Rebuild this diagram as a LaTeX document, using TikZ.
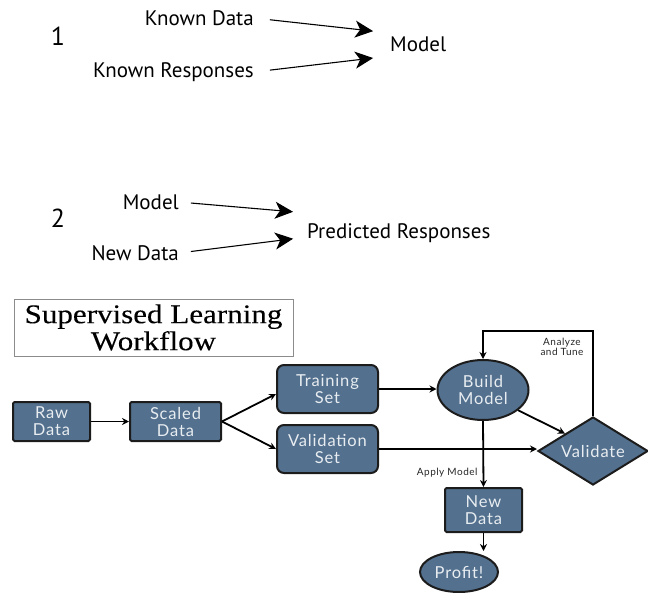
\documentclass[tikz,border=0pt]{standalone}
\usepackage{fontspec}
\setmainfont{Liberation Serif}
\setsansfont{PT Sans}
\newfontfamily\flowfont[LetterSpace=5]{Lato}
\newfontfamily\titlefont[FakeStretch=1.15,FakeBold=0.2]{Liberation Serif}
\usetikzlibrary{
  shapes.geometric, % ellipse, diamond
  arrows.meta,
  positioning,
}
\definecolor{boxblue}{HTML}{53708E}
\definecolor{boxedge}{HTML}{1C1C1C}
\definecolor{boxtext}{HTML}{E8EDF1}
\tikzset{
  semithick,
  big arrow/.style={
    -{Stealth[length=18pt,width=17pt,inset=5pt]},
    line width=1.1pt
  },
  flow arrow/.style={
    -{Stealth[length=7pt,width=7pt]},
    line width=1.8pt
  },
  plain/.style={
    font=\sffamily\fontsize{21}{23}\selectfont,
    inner sep=0pt
  },
  step num/.style={
    font=\sffamily\fontsize{26}{28}\selectfont,
    inner sep=0pt
  },
  wf/.style={
    draw=boxedge,
    line width=2pt,
    fill=boxblue,
    text=boxtext,
    font=\flowfont\fontsize{16.5}{17}\selectfont,
    align=center,
    inner sep=0pt
  },
  wf box/.style={
    wf,
    rectangle,
    rounded corners=1.5pt
  },
  wf round/.style={
    wf,
    rectangle,
    rounded corners=7pt,
    minimum width=101pt,
    minimum height=48pt
  },
  small label/.style={
    font=\flowfont\fontsize{10}{10}\selectfont,
    text=black!85,
    align=center,
    inner sep=0pt
  }
}
\begin{document}
\begin{tikzpicture}[x=1pt,y=-1pt]
\useasboundingbox (0,0) rectangle (648,592);
% part 1
\node[step num]              (one) at (58,36)  {1};
\node[plain,anchor=east]     (kd)  at (254,18) {Known Data};
\node[plain,anchor=east]     (kr)  at (254,72) {Known Responses};
\node[plain,anchor=west]     (m1)  at (390,44) {Model};
\draw[big arrow,shorten <=16pt,shorten >=17pt] (kd.east) -- ([yshift=11pt]m1.west);
\draw[big arrow,shorten <=16pt,shorten >=17pt] (kr.east) -- ([yshift=-12pt]m1.west);
% part 2
\node[step num]              (two) at (58,218)  {2};
\node[plain,anchor=east]     (m2)  at (179,202) {Model};
\node[plain,anchor=east]     (nd)  at (179,253) {New Data};
\node[plain,anchor=west]     (pr)  at (307,233) {Predicted Responses};
\draw[big arrow,shorten <=12pt,shorten >=14pt] (m2.east) -- ([yshift=20pt]pr.west);
\draw[big arrow,shorten <=12pt,shorten >=14pt] (nd.east) -- ([yshift=-4pt]pr.west);
% workflow
\node[draw=black!45,line width=0.6pt,minimum width=279pt,minimum height=57pt,
      align=center,font=\titlefont\fontsize{27}{27}\selectfont]
      (title) at (153.5,327.5) {Supervised Learning\\Workflow};
\node[wf box,minimum width=77pt,minimum height=39pt] (raw)    at (51.5,421.5)  {Raw\\Data};
\node[wf box,minimum width=91pt,minimum height=39pt] (scaled) at (175.5,421.5) {Scaled\\Data};
\node[wf round] (train) at (327.5,389) {Training\\Set};
\node[wf round] (valid) at (327.5,449) {Validation\\Set};
\node[wf,ellipse,minimum width=91pt,minimum height=60pt] (build) at (483,390) {Build\\Model};
\node[wf,diamond,aspect=1.6,minimum width=110pt,minimum height=68pt] (check) at (593,451) {Validate};
\node[wf box,minimum width=77pt,minimum height=44pt] (newd)   at (483.5,510) {New\\Data};
\node[wf,ellipse,minimum width=78pt,minimum height=40pt] (profit) at (459,572) {Profit!};
\node[small label] (tune) at (562,347) {Analyze\\and Tune};

\draw[flow arrow] (raw) -- (scaled);
\draw[flow arrow] (scaled.east) -- ([yshift=-5pt]train.west);
\draw[flow arrow] (scaled.east) -- (valid.west);
\draw[flow arrow] (train.east) -- (train.east -| build.west);
\draw[flow arrow] (valid.east) -- (valid.east -| check.west);
\draw[flow arrow] (build.-30) -- (check.north west);
\draw[flow arrow] (build.south) -- (newd.north)
  node[pos=0.78,left=5pt,small label] {Apply Model};
\draw[flow arrow] (newd.south) -- (newd.south |- profit.north);
\draw[flow arrow] (check.north) -- ++(0,-85) -| (build.north);
\end{tikzpicture}
\end{document}
